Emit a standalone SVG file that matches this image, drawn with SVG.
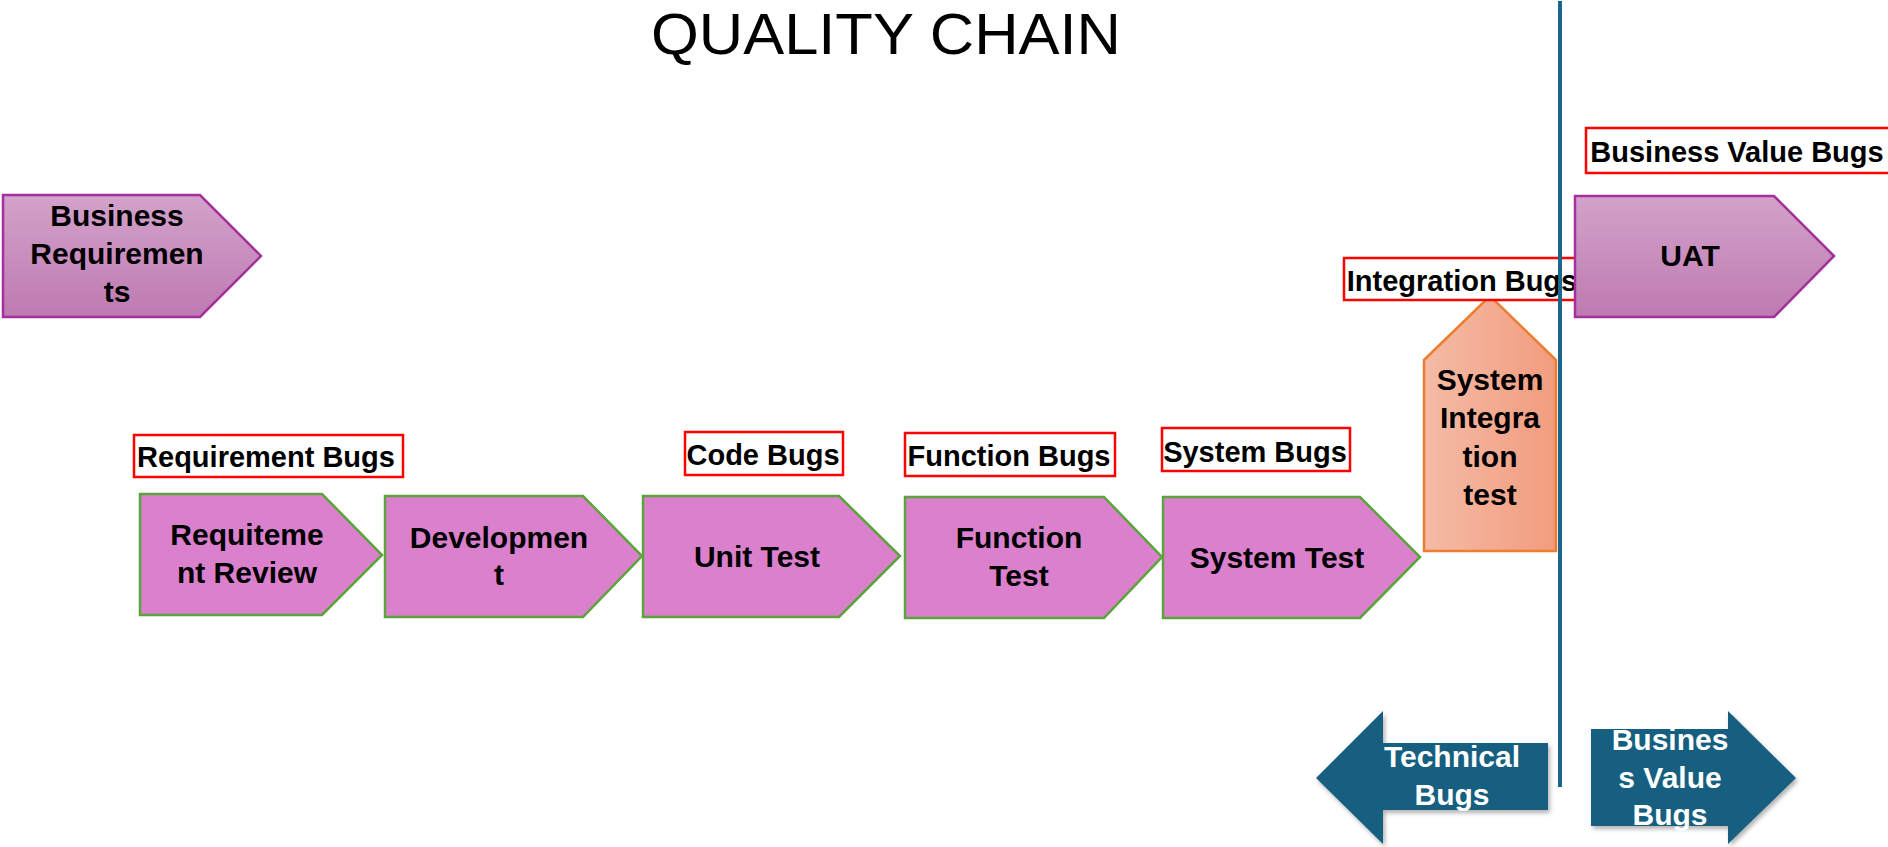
<svg xmlns="http://www.w3.org/2000/svg" width="1888" height="847" viewBox="0 0 1888 847">
<defs>
<linearGradient id="purp" x1="0" y1="0" x2="0" y2="1">
<stop offset="0" stop-color="#D3A2CB"/><stop offset="1" stop-color="#BE7AB1"/>
</linearGradient>
<linearGradient id="orng" x1="0" y1="0" x2="1" y2="0">
<stop offset="0" stop-color="#F4BBA6"/><stop offset="1" stop-color="#F29C7E"/>
</linearGradient>
<filter id="shd" x="-10%" y="-10%" width="130%" height="130%">
<feDropShadow dx="2" dy="3" stdDeviation="2" flood-color="#000" flood-opacity="0.3"/>
</filter>
<style>
text{font-family:"Liberation Sans",Arial,sans-serif;font-weight:bold;font-size:29px;fill:#000;text-anchor:middle}
.n{font-size:30px}
.title{font-weight:normal;font-size:58px}
.proc{fill:#DA80CC;stroke:#5BA33B;stroke-width:2.5}
.biz{fill:url(#purp);stroke:#A3309C;stroke-width:2.5}
.sit{fill:url(#orng);stroke:#ED7D31;stroke-width:2.5}
.bug{fill:#fff;stroke:#FF0000;stroke-width:2.5}
.dark{fill:#175E80;filter:url(#shd)}
.w{fill:#fff}
</style>
</defs>

<text class="title" x="886" y="54" textLength="470" lengthAdjust="spacingAndGlyphs">QUALITY CHAIN</text>

<g id="business-requirements">
<path class="biz" d="M3,195 H200 L261,256 L200,317 H3 Z"/>
<text class="n" x="117" y="226">Business</text>
<text class="n" x="117" y="264">Requiremen</text>
<text class="n" x="117" y="302">ts</text>
</g>

<g id="requirement-bugs">
<rect class="bug" x="134" y="435" width="269" height="42"/>
<text x="266" y="467">Requirement Bugs</text>
</g>

<g id="requirement-review">
<path class="proc" d="M140,494 H322 L382,555 L322,615 H140 Z"/>
<text class="n" x="247" y="545">Requiteme</text>
<text class="n" x="247" y="583">nt Review</text>
</g>

<g id="development">
<path class="proc" d="M385,496 H583 L642,556 L583,617 H385 Z"/>
<text class="n" x="499" y="548">Developmen</text>
<text class="n" x="499" y="585">t</text>
</g>

<g id="code-bugs">
<rect class="bug" x="685" y="432" width="158" height="43"/>
<text x="763" y="465">Code Bugs</text>
</g>

<g id="unit-test">
<path class="proc" d="M643,496 H839 L900,556 L839,617 H643 Z"/>
<text class="n" x="757" y="567">Unit Test</text>
</g>

<g id="function-bugs">
<rect class="bug" x="905" y="433" width="210" height="43"/>
<text x="1009" y="466">Function Bugs</text>
</g>

<g id="function-test">
<path class="proc" d="M905,497 H1104 L1162,557 L1104,618 H905 Z"/>
<text class="n" x="1019" y="548">Function</text>
<text class="n" x="1019" y="586">Test</text>
</g>

<g id="system-bugs">
<rect class="bug" x="1162" y="428" width="188" height="43"/>
<text x="1255" y="462">System Bugs</text>
</g>

<g id="system-test">
<path class="proc" d="M1163,497 H1360 L1420,557 L1360,618 H1163 Z"/>
<text class="n" x="1277" y="568">System Test</text>
</g>

<g id="system-integration-test">
<path class="sit" d="M1424,360 L1490,296 L1556,360 V551 H1424 Z"/>
<text class="n" x="1490" y="390">System</text>
<text class="n" x="1490" y="428">Integra</text>
<text class="n" x="1490" y="467">tion</text>
<text class="n" x="1490" y="505">test</text>
</g>

<g id="integration-bugs">
<rect class="bug" x="1344" y="258" width="238" height="42"/>
<text x="1462" y="291">Integration Bugs</text>
</g>

<g id="business-value-bugs">
<rect class="bug" x="1586" y="128" width="310" height="45"/>
<text x="1737" y="162">Business Value Bugs</text>
</g>

<g id="uat">
<path class="biz" d="M1575,196 H1774 L1834,256 L1774,317 H1575 Z"/>
<text class="n" x="1690" y="266">UAT</text>
</g>

<g id="connectors">
<line x1="1560" y1="1" x2="1560" y2="787" stroke="#1B6690" stroke-width="4"/>
</g>

<g id="technical-bugs">
<path class="dark" d="M1316,778 L1383,711 V743 H1548 V810 H1383 V844 Z"/>
<text class="w n" x="1452" y="767">Technical</text>
<text class="w n" x="1452" y="805">Bugs</text>
</g>

<g id="business-value-bugs-arrow">
<path class="dark" d="M1591,729 H1728 V711 L1796,778 L1728,844 V826 H1591 Z"/>
<text class="w n" x="1670" y="750">Busines</text>
<text class="w n" x="1670" y="788">s Value</text>
<text class="w n" x="1670" y="825">Bugs</text>
</g>
</svg>
